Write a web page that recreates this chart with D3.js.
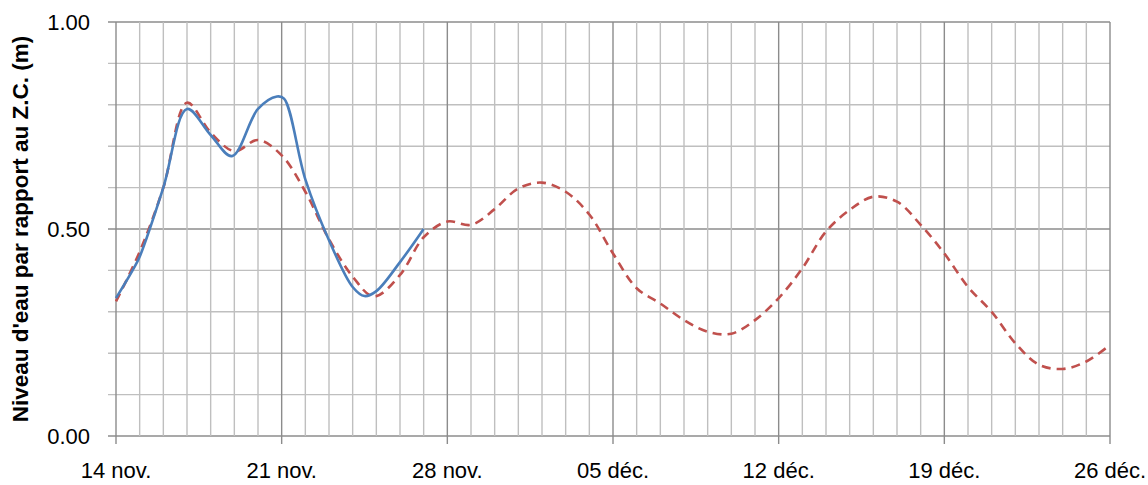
<!DOCTYPE html>
<html>
<head>
<meta charset="utf-8">
<script src="https://cdn.jsdelivr.net/npm/d3@7"></script>
<style>
  body { margin: 0; background: #fff; }
  svg text { font-family: "Liberation Sans", Arial, sans-serif; fill: #000; }
</style>
</head>
<body>
<svg id="chart" width="1148" height="485"></svg>
<script>
// Water level relative to chart datum, day offset from 14 nov.
const xTickLabels = ['14 nov.', '21 nov.', '28 nov.', '05 déc.', '12 déc.', '19 déc.', '26 déc.'];
const yTickLabels = ['0.00', '0.50', '1.00'];

const observedDays = [0, 0.7, 1, 2, 3, 4, 4.9, 6, 6.8, 7.1, 8, 9, 10, 10.5, 11, 12, 13];
const observedLevel = [0.333, 0.40, 0.433, 0.60, 0.79, 0.727, 0.676, 0.79, 0.82, 0.815, 0.62, 0.473, 0.36, 0.338, 0.35, 0.42, 0.50];

const predictedDays = [0, 1, 2, 3, 4, 5, 6, 7, 8, 9, 10, 10.9, 12, 13, 14, 15, 16, 17, 18, 19, 20, 21,
    22, 23, 24, 25, 26, 27, 28, 29, 30, 31, 32, 33, 34, 35, 36, 37, 38, 39, 40, 41, 42];
const predictedLevel = [0.325, 0.445, 0.60, 0.805, 0.733, 0.688, 0.715, 0.678, 0.59, 0.475, 0.385, 0.337, 0.389, 0.48, 0.518, 0.51,
    0.548, 0.598, 0.612, 0.59, 0.535, 0.441, 0.357, 0.32, 0.28, 0.252, 0.247, 0.28, 0.333, 0.405, 0.494,
    0.546, 0.578, 0.566, 0.51, 0.441, 0.36, 0.30, 0.224, 0.172, 0.162, 0.18, 0.22];

const margin = { left: 116, right: 38, top: 22, bottom: 49 };
const W = 1148, H = 485;
const svg = d3.select('#chart');

const x = d3.scaleLinear().domain([0, 42]).range([margin.left, W - margin.right]);
const y = d3.scaleLinear().domain([0, 1]).range([H - margin.bottom, margin.top]);

const grid = svg.append('g');

// horizontal grid every 0.1
d3.range(0, 11).forEach(i => {
    const v = i / 10;
    grid.append('line')
        .attr('x1', x(0) - 8).attr('x2', x(42))
        .attr('y1', y(v)).attr('y2', y(v))
        .attr('stroke', i % 5 === 0 ? '#8c8c8c' : '#bfbfbf')
        .attr('stroke-width', 1.4);
});

// vertical grid every day, darker every week
d3.range(0, 43).forEach(d => {
    const major = d % 7 === 0;
    grid.append('line')
        .attr('x1', x(d)).attr('x2', x(d))
        .attr('y1', y(1)).attr('y2', y(0) + (major ? 8 : 0))
        .attr('stroke', major ? '#8c8c8c' : '#bfbfbf')
        .attr('stroke-width', 1.4);
});

// y tick labels
yTickLabels.forEach((t, i) => {
    svg.append('text')
        .attr('x', 90).attr('y', y(i * 0.5))
        .attr('dy', '0.36em')
        .attr('text-anchor', 'end')
        .attr('font-size', 22)
        .text(t);
});

// x tick labels
xTickLabels.forEach((t, i) => {
    svg.append('text')
        .attr('x', x(i * 7)).attr('y', 478)
        .attr('text-anchor', 'middle')
        .attr('font-size', 22)
        .text(t);
});

svg.append('text')
    .attr('transform', `translate(28,${(y(0) + y(1)) / 2}) rotate(-90)`)
    .attr('text-anchor', 'middle')
    .attr('font-size', 22.5)
    .attr('font-weight', 'bold')
    .text("Niveau d'eau par rapport au Z.C. (m)");

const line = d3.line()
    .x(d => x(d[0]))
    .y(d => y(d[1]))
    .curve(d3.curveCatmullRom.alpha(0.5));

svg.append('path')
    .datum(predictedDays.map((d, i) => [d, predictedLevel[i]]))
    .attr('d', line)
    .attr('fill', 'none')
    .attr('stroke', '#c0504d')
    .attr('stroke-width', 2.6)
    .attr('stroke-dasharray', '9,6');

svg.append('path')
    .datum(observedDays.map((d, i) => [d, observedLevel[i]]))
    .attr('d', line)
    .attr('fill', 'none')
    .attr('stroke', '#4a7ebb')
    .attr('stroke-width', 2.6);
</script>
</body>
</html>
